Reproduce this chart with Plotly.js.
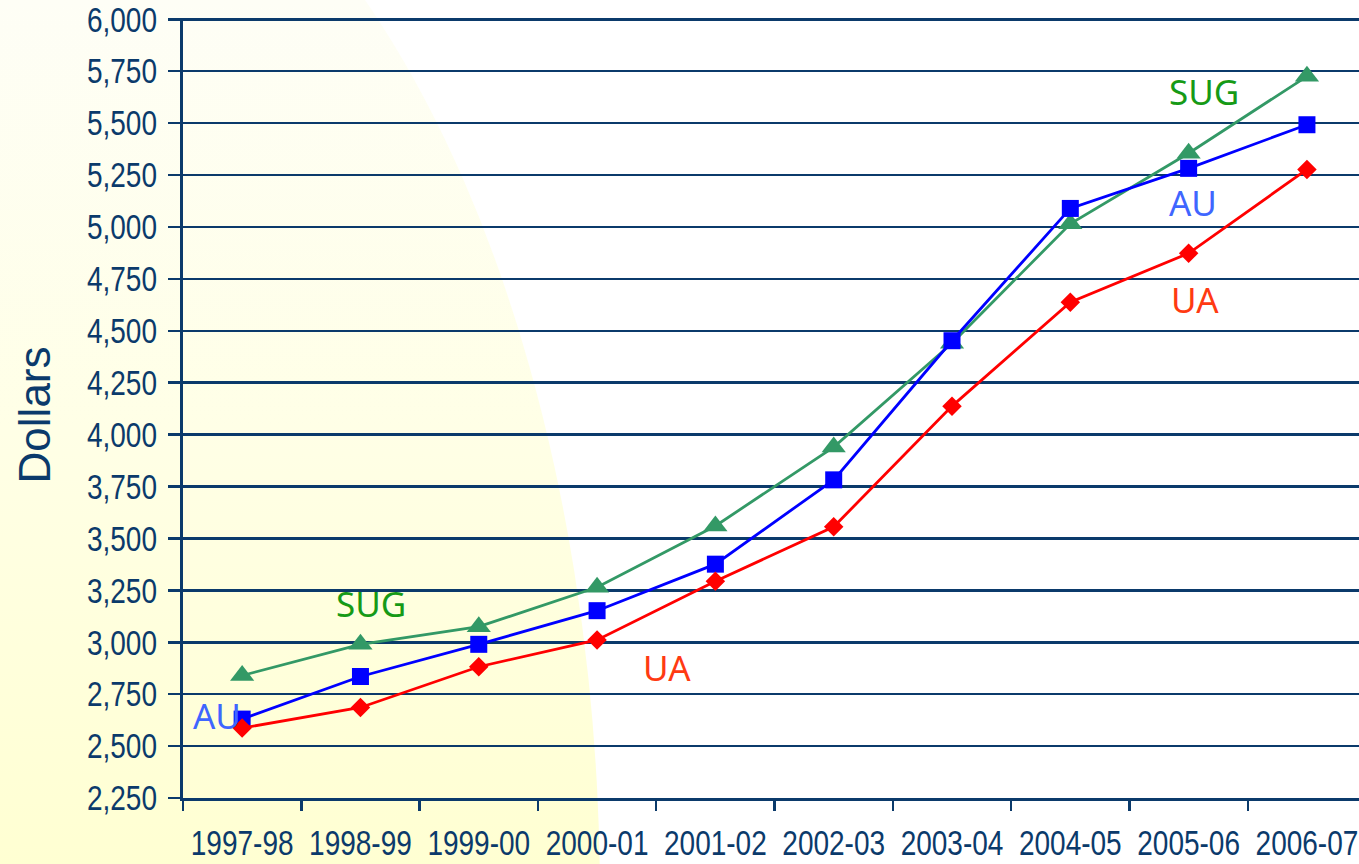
<!DOCTYPE html>
<html>
<head>
<meta charset="utf-8">
<script src="https://cdn.plot.ly/plotly-3.0.1.min.js"></script>
<style>
  html, body { margin: 0; padding: 0; background: #ffffff; }
  #wrap { position: relative; width: 1359px; height: 864px; overflow: hidden; }
  #bg { position: absolute; left: 0; top: 0; }
  #chart { position: absolute; left: 0; top: 0; width: 1359px; height: 864px; }
</style>
</head>
<body>
<div id="wrap">
  <svg id="bg" width="1359" height="864" viewBox="0 0 1359 864" xmlns="http://www.w3.org/2000/svg">
    <defs>
      <linearGradient id="yg" gradientUnits="userSpaceOnUse" x1="0" y1="0" x2="0" y2="864">
        <stop offset="0" stop-color="#FEFEF6"/>
        <stop offset="0.5" stop-color="#FFFFE6"/>
        <stop offset="1" stop-color="#FFFFD2"/>
      </linearGradient>
    </defs>
    <ellipse cx="0" cy="900" rx="600" ry="1134" fill="url(#yg)"/>
  </svg>
  <div id="chart"></div>
</div>
<script>
const categories = ['1997-98','1998-99','1999-00','2000-01','2001-02','2002-03','2003-04','2004-05','2005-06','2006-07'];
const sugValues = [2840, 2990, 3075, 3265, 3560, 3940, 4440, 5015, 5355, 5725];
const auValues  = [2630, 2835, 2990, 3152, 3376, 3782, 4452, 5089, 5282, 5492];
const uaValues  = [2587, 2686, 2882, 3011, 3294, 3556, 4137, 4637, 4873, 5277];
const yTickVals = [2250, 2500, 2750, 3000, 3250, 3500, 3750, 4000, 4250, 4500, 4750, 5000, 5250, 5500, 5750, 6000];
const yTickText = ['2,250','2,500','2,750','3,000','3,250','3,500','3,750','4,000','4,250','4,500','4,750','5,000','5,250','5,500','5,750','6,000'];

const navy = '#0B3A6B';

const traces = [
  { x: categories, y: sugValues, type: 'scatter', mode: 'lines+markers', name: 'SUG',
    line: { color: '#339966', width: 2.8 },
    marker: { symbol: 'triangle-up', size: 21, color: '#339966' } },
  { x: categories, y: auValues, type: 'scatter', mode: 'lines+markers', name: 'AU',
    line: { color: '#0000FF', width: 2.8 },
    marker: { symbol: 'square', size: 17, color: '#0000FF' } },
  { x: categories, y: uaValues, type: 'scatter', mode: 'lines+markers', name: 'UA',
    line: { color: '#FF0000', width: 2.8 },
    marker: { symbol: 'diamond', size: 15, color: '#FF0000' } }
];

const labelFont = { family: 'Noto Sans, DejaVu Sans, sans-serif', size: 35 };
const annotations = [
  { x: 1.09, y: 3189, text: 'SUG', color: '#169A16' },
  { x: 8.126, y: 5653, text: 'SUG', color: '#169A16' },
  { x: -0.213, y: 2645, text: 'AU', color: '#3F66FF' },
  { x: 8.038, y: 5117, text: 'AU', color: '#3F66FF' },
  { x: 3.591, y: 2878, text: 'UA', color: '#FF3A12' },
  { x: 8.054, y: 4652, text: 'UA', color: '#FF3A12' }
].map(a => ({
  x: a.x, y: a.y, xref: 'x', yref: 'y', text: a.text, showarrow: false,
  xanchor: 'center', yanchor: 'middle',
  font: Object.assign({}, labelFont, { color: a.color })
}));

annotations.push({
  xref: 'paper', yref: 'paper', x: -0.1259, y: 0.4917,
  xanchor: 'center', yanchor: 'middle', showarrow: false,
  text: 'Dollars', textangle: -90,
  font: { family: 'Liberation Sans, Arial, sans-serif', size: 44, color: navy }
});

const tickFont = { family: 'Liberation Sans Narrow, Liberation Sans, Arial, sans-serif', size: 35, color: navy };

const layout = {
  width: 1359, height: 864,
  margin: { l: 183, r: 0, t: 18, b: 66 },
  paper_bgcolor: 'rgba(0,0,0,0)',
  plot_bgcolor: 'rgba(0,0,0,0)',
  showlegend: false,
  xaxis: {
    type: 'category',
    range: [-0.5, 9.44],
    tickson: 'boundaries',
    tickangle: 0,
    ticks: 'outside', ticklen: 10, tickwidth: 2.5, tickcolor: navy,
    showgrid: false, zeroline: false,
    showline: true, linecolor: navy, linewidth: 3,
    tickfont: tickFont,
    ticklabelstandoff: 12,
    ticklabeloverflow: 'allow'
  },
  yaxis: {
    range: [2250, 6006],
    tickvals: yTickVals, ticktext: yTickText,
    ticks: 'outside', ticklen: 12, tickwidth: 2.5, tickcolor: navy,
    showgrid: true, gridcolor: navy, gridwidth: 2.5,
    zeroline: false,
    showline: true, linecolor: navy, linewidth: 3,
    tickfont: tickFont,
    ticklabelstandoff: 4,
    ticklabeloverflow: 'allow'
  },
  annotations: annotations
};

function condense() {
  const s = 0.8;
  document.querySelectorAll('#chart .xtick text').forEach(el => {
    const b = el.getBBox();
    const ax = b.x + b.width / 2;
    const t = el.getAttribute('transform') || '';
    el.setAttribute('transform', t + ' translate(' + ax + ',0) scale(' + s + ',1) translate(' + (-ax) + ',0)');
  });
  document.querySelectorAll('#chart .ytick text').forEach(el => {
    const b = el.getBBox();
    const ax = b.x + b.width;
    const t = el.getAttribute('transform') || '';
    el.setAttribute('transform', t + ' translate(' + ax + ',0) scale(' + s + ',1) translate(' + (-ax) + ',0)');
  });
}

Plotly.newPlot('chart', traces, layout, { displayModeBar: false, staticPlot: true }).then(condense);
</script>
</body>
</html>
